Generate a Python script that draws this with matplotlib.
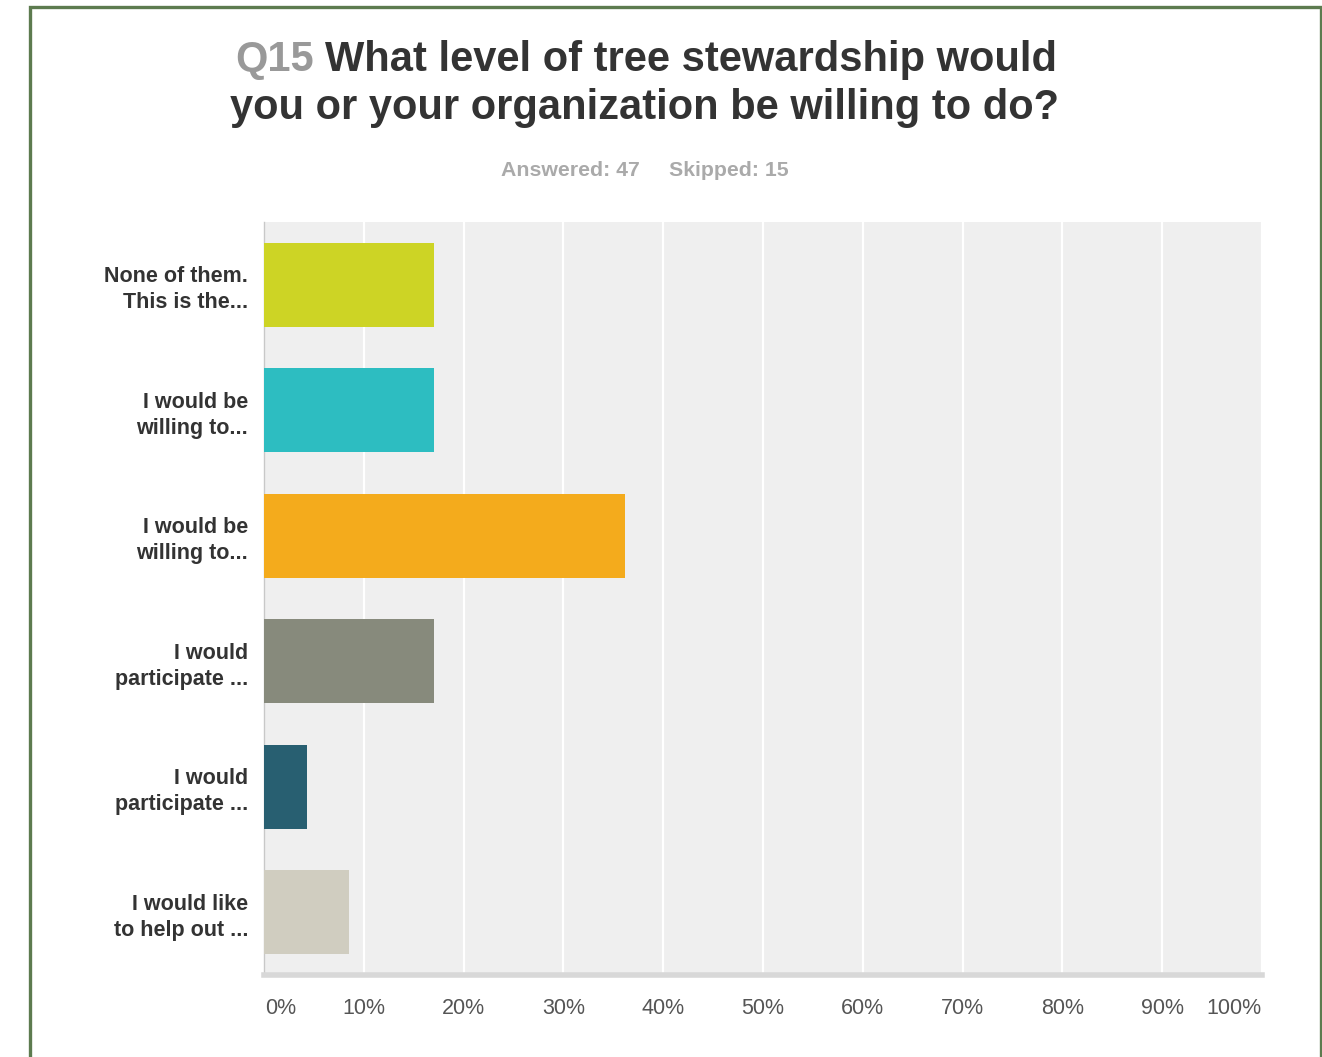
"""
Survey chart: Q15 tree stewardship, horizontal bars
"""

import matplotlib.pyplot as plt
from matplotlib.patches import Rectangle

# Data (percent of 47 respondents)
labels = ['None of them.\nThis is the...',
          'I would be\nwilling to...',
          'I would be\nwilling to...',
          'I would\nparticipate ...',
          'I would\nparticipate ...',
          'I would like\nto help out ...']
percents = [17.02, 17.02, 36.17, 17.02, 4.26, 8.51]
colors = ['#cdd425', '#2dbdc1', '#f4ab1c', '#878a7c', '#285f71', '#d0cdc0']
xticks = [0, 10, 20, 30, 40, 50, 60, 70, 80, 90, 100]
xtick_labels = [f'{t}%' for t in xticks]

plt.rcParams['font.family'] = ['Liberation Sans', 'DejaVu Sans']


def plot_chart():
    fig = plt.figure(figsize=(13.22, 10.57), dpi=100)
    W, H = 1322, 1057

    # Outer green frame
    fig.patches.append(Rectangle((30 / W, -0.01), (1321 - 30) / W, 1.01 - 7 / H,
                                 transform=fig.transFigure, fill=False,
                                 edgecolor='#5d7b4f', linewidth=2.4))

    ax = fig.add_axes([264 / W, 82 / H, (1262 - 264) / W, (975 - 222) / H])
    ax.set_facecolor('#efefef')

    ypos = range(len(labels))
    ax.barh(ypos, percents, height=0.67, color=colors, zorder=3)
    ax.set_ylim(len(labels) - 0.5, -0.5)
    ax.set_xlim(0, 100)

    # White vertical grid
    ax.set_xticks(xticks)
    ax.grid(axis='x', color='white', linewidth=1.6, zorder=1)
    ax.grid(axis='y', visible=False)

    ax.set_yticks(list(ypos))
    ax.set_yticklabels(labels, fontsize=15.5, fontweight='bold', color='#333333',
                       linespacing=1.3)
    ax.tick_params(axis='y', length=0, pad=11.5)

    ax.set_xticklabels([])
    ax.tick_params(axis='x', length=0)
    for t, lab in zip(xticks, xtick_labels):
        ha = 'center'
        x = t
        if t == 0:
            ha, x = 'left', 0.1
        elif t == 100:
            ha, x = 'right', 99.9
        ax.text(x, -0.044, lab, transform=ax.get_xaxis_transform(), ha=ha, va='center',
                fontsize=15.5, color='#555555')

    for side in ['top', 'right']:
        ax.spines[side].set_visible(False)
    ax.spines['left'].set_color('#c8c8c8')
    ax.spines['left'].set_linewidth(1)
    ax.spines['bottom'].set_color('#d8d8d8')
    ax.spines['bottom'].set_linewidth(4)

    # Title
    fig.text(314 / W, 1 - 60 / H, 'Q15', ha='right', va='center', fontsize=30,
             fontweight='bold', color='#999999')
    fig.text(325 / W, 1 - 60 / H, 'What level of tree stewardship would', ha='left',
             va='center', fontsize=30, fontweight='bold', color='#333333')
    fig.text(645 / W, 1 - 108 / H, 'you or your organization be willing to do?',
             ha='center', va='center', fontsize=30, fontweight='bold', color='#333333')
    fig.text(645 / W, 1 - 170 / H, 'Answered: 47     Skipped: 15', ha='center',
             va='center', fontsize=15.3, fontweight='bold', color='#aaaaaa')

    fig.savefig('out.png', dpi=100)


if __name__ == "__main__":
    plot_chart()
